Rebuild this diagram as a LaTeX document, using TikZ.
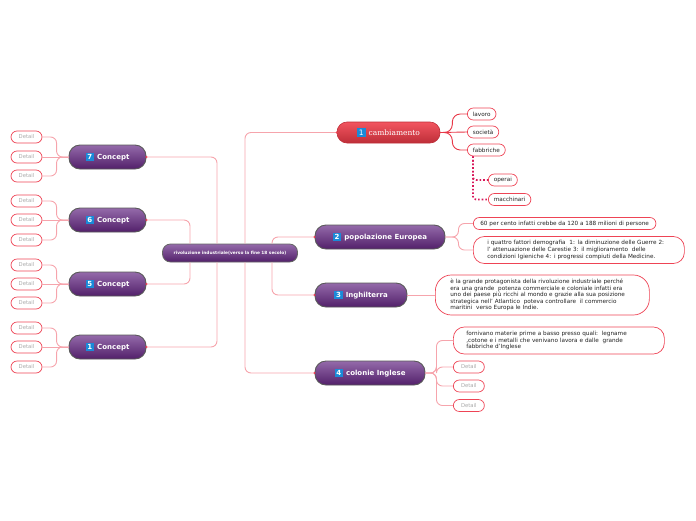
\documentclass[tikz,border=0pt]{standalone}
\usepackage{fontspec}
\setmainfont{DejaVu Sans}
\newfontfamily\serifcam{DejaVu Serif}
\usetikzlibrary{calc}
\definecolor{purTop}{HTML}{946AAA}
\definecolor{purBot}{HTML}{52206A}
\definecolor{redTop}{HTML}{F25560}
\definecolor{redBot}{HTML}{BE2E38}
\definecolor{badgeblue}{HTML}{1A8AD8}
\definecolor{boxred}{HTML}{EE4455}
\definecolor{linkpink}{HTML}{F6A4AC}
\definecolor{linkred}{HTML}{E83848}
\definecolor{dotcrim}{HTML}{D8185A}
\definecolor{detgray}{HTML}{AAAAAA}
\definecolor{txt}{HTML}{222222}
\newcommand\badge[1]{{\setlength{\fboxsep}{1.3pt}\colorbox{badgeblue}{\makebox[6pt]{\textcolor{white}{#1}}}}\hspace{3pt}}
\tikzset{
  mainnode/.style={draw=black!65, line width=0.9pt, rounded corners=11pt, top color=purTop, bottom color=purBot, minimum height=24, text=white, font=\bfseries\fontsize{7}{8}\selectfont, inner sep=2pt},
  rednode/.style={draw=redBot, line width=0.6pt, rounded corners=10pt, top color=redTop, bottom color=redBot, minimum height=21, text=white, font=\fontsize{7.5}{8}\selectfont, inner sep=2pt},
  central/.style={draw=black!60, line width=0.8pt, rounded corners=8pt, top color=purTop, bottom color=purBot, minimum height=18, text=white, font=\bfseries\fontsize{4.3}{5}\selectfont},
  childbox/.style={draw=boxred, line width=0.7pt, fill=white, rounded corners=6pt, minimum height=12, inner xsep=5.5pt, inner ysep=1pt, text=txt, font=\fontsize{5.7}{6.5}\selectfont},
  bigbox/.style={draw=boxred, line width=0.7pt, fill=white, rounded corners=11pt, align=left, text=txt, font=\fontsize{5.7}{6.6}\selectfont, inner ysep=3pt},
  detail/.style={childbox, text=detgray, font=\fontsize{5.3}{6.5}\selectfont, minimum width=31, inner xsep=2pt},
  conn/.style={draw=linkpink, line width=0.9pt, rounded corners=6pt},
  redconn/.style={draw=linkred, line width=0.9pt, rounded corners=8pt},
  dotconn/.style={draw=dotcrim, line width=1.6pt, dotted, rounded corners=3pt},
}
\begin{document}
\begin{tikzpicture}[x=1pt,y=-1pt]
\useasboundingbox (0,0) rectangle (696,520);
% central
\node[central, minimum width=135] (c) at (230,253) {rivoluzione industriale(verso la fine 18 secolo)};
% right main nodes
\node[rednode, minimum width=103] (n1) at (388.5,132.5) {\badge{1}{\serifcam cambiamento}};
\node[mainnode, minimum width=130] (n2) at (380,237) {\badge{2}popolazione Europea};
\node[mainnode, minimum width=92] (n3) at (361,295) {\badge{3}Inghilterra};
\node[mainnode, minimum width=110] (n4) at (370,373) {\badge{4}colonie Inglese};
% left concepts
\node[mainnode, minimum width=77] (k7) at (107.5,157) {\badge{7}Concept};
\node[mainnode, minimum width=77] (k6) at (107.5,220) {\badge{6}Concept};
\node[mainnode, minimum width=77] (k5) at (107.5,284) {\badge{5}Concept};
\node[mainnode, minimum width=77] (k1) at (107.5,347) {\badge{1}Concept};
% connectors central
\draw[conn] ($(c.north)+(15,0)$) |- (n1.west);
\draw[conn] ($(c.south)+(15,0)$) |- (n4.west);
\draw[conn] ($(c.north)+(42,0)$) |- (n2.west);
\draw[conn] ($(c.south)+(42,0)$) |- (n3.west);
\draw[conn] ($(c.north)+(-13,0)$) |- (k7.east);
\draw[conn] ($(c.south)+(-13,0)$) |- (k1.east);
\draw[conn] ($(c.north)+(-40,0)$) |- (k6.east);
\draw[conn] ($(c.south)+(-40,0)$) |- (k5.east);
\foreach \n in {n1,n2,n3,n4}{\fill[boxred] (\n.west) circle (1.1);}
\foreach \n in {k7,k6,k5,k1}{\fill[boxred] (\n.east) circle (1.1);}
% left details
\foreach \k/\ya/\yb/\yc in {k7/137/157/176, k6/201/220/240, k5/265/284/303, k1/328/347/367}{
  \node[detail] (\k a) at (26.5,\ya) {Detail};
  \node[detail] (\k b) at (26.5,\yb) {Detail};
  \node[detail] (\k c) at (26.5,\yc) {Detail};
  \draw[conn] (\k.west) -- ++(-12,0) |- (\k a.east);
  \draw[conn] (\k.west) -- (\k b.east);
  \draw[conn] (\k.west) -- ++(-12,0) |- (\k c.east);
}
% cambiamento children
\node[childbox, anchor=west] (lav) at (467,114) {lavoro};
\node[childbox, anchor=west] (soc) at (467,132) {società};
\node[childbox, anchor=west] (fab) at (467,150) {fabbriche};
\node[childbox, anchor=west] (op) at (488,180) {operai};
\node[childbox, anchor=west] (mac) at (488,199.5) {macchinari};
\draw[redconn] (n1.east) -- ++(12,0) |- (lav.west);
\draw[redconn] (n1.east) -- (soc.west);
\draw[redconn] (n1.east) -- ++(12,0) |- (fab.west);
\draw[dotconn] ($(fab.south west)+(6,0)$) |- (op.west);
\draw[dotconn] ($(fab.south west)+(6,0)$) |- (mac.west);
% popolazione children
\node[childbox, anchor=west, inner xsep=7pt] (p1) at (473,223.5) {60 per cento infatti crebbe da 120 a 188 milioni di persone};
\node[bigbox, anchor=west, inner xsep=14pt, text width=183pt, minimum height=27] (p2) at (473,250) {i quattro fattori demografia\ \ 1: la diminuzione delle Guerre 2:\\ l' attenuazione delle Carestie 3: il miglioramento\ \ delle\\ condizioni Igieniche 4: i progressi compiuti della Medicine.};
\draw[conn] (n2.east) -- ++(13,0) |- (p1.west);
\draw[conn] (n2.east) -- ++(13,0) |- (p2.west);
% Inghilterra child
\node[bigbox, anchor=west, inner xsep=15pt, text width=184pt, minimum height=40, rounded corners=16pt] (ing) at (435,295) {è la grande protagonista della rivoluzione industriale perché\\ era una grande\ \ potenza commerciale e coloniale infatti era\\ uno dei paese più ricchi al mondo e grazie alla sua posizione\\ strategica nell' Atlantico\ \ poteva controllare\ \ il commercio\\ maritini\ \ verso Europa le Indie.};
\draw[conn] (n3.east) -- (ing.west);
% colonie children
\node[bigbox, anchor=west, inner xsep=13pt, text width=185pt, minimum height=27] (q1) at (453,340.5) {fornivano materie prime a basso presso quali:\ \ legname\\ ,cotone e i metalli che venivano lavora e dalle\ \ grande\\ fabbriche d'Inglese};
\node[detail, anchor=west] (q2) at (453,367) {Detail};
\node[detail, anchor=west] (q3) at (453,386) {Detail};
\node[detail, anchor=west] (q4) at (453,405.5) {Detail};
\foreach \q in {q1,q2,q3,q4}{\draw[conn] (n4.east) -- ++(11,0) |- (\q.west);}
\end{tikzpicture}
\end{document}
